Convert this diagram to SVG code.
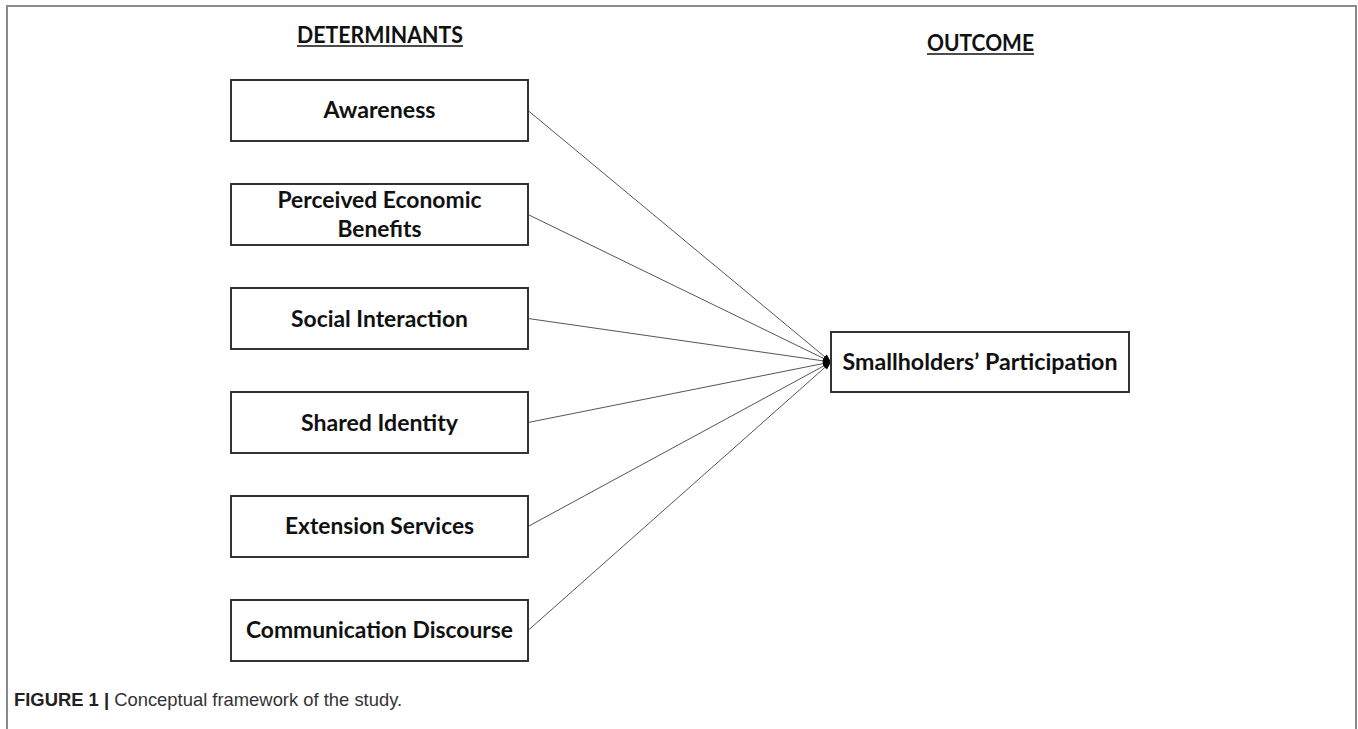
<svg xmlns="http://www.w3.org/2000/svg" width="1358" height="729" viewBox="0 0 1358 729">
<defs>
<marker id="ah" markerUnits="userSpaceOnUse" markerWidth="9" markerHeight="7" refX="8" refY="3" orient="auto" overflow="visible">
<path d="M0,0 L8,3 L0,6 z" fill="#000"/>
</marker>
<style>
.frame{fill:none;stroke:#8a8a8a;stroke-width:2}
.box{fill:#fff;stroke:#333;stroke-width:2}
.lbl{font-family:Lato,"Liberation Sans",sans-serif;font-weight:bold;font-size:22px;fill:#111;text-anchor:middle}
.hdr{font-family:Lato,"Liberation Sans",sans-serif;font-weight:bold;font-size:22px;fill:#111;text-anchor:middle}
.ul{stroke:#111;stroke-width:1.5}
.con{stroke:#555;stroke-width:1;fill:none;marker-end:url(#ah)}
.cap{font-family:"Liberation Sans",Arial,sans-serif;font-size:18.4px;fill:#333}
</style>
</defs>
<rect width="1358" height="729" fill="#fff"/>
<path class="frame" d="M7,740 L7,6 L1356,6 L1356,740"/>

<g id="headers">
<text class="hdr" x="380" y="43" textLength="166" lengthAdjust="spacingAndGlyphs">DETERMINANTS</text>
<line class="ul" x1="297" y1="46" x2="463" y2="46"/>
<text class="hdr" x="980.5" y="51" textLength="107" lengthAdjust="spacingAndGlyphs">OUTCOME</text>
<line class="ul" x1="927" y1="54" x2="1034" y2="54"/>
</g>

<g id="connectors">
<line class="con" x1="528" y1="110.5" x2="831" y2="362"/>
<line class="con" x1="528" y1="214.5" x2="831" y2="362"/>
<line class="con" x1="528" y1="318.5" x2="831" y2="362"/>
<line class="con" x1="528" y1="422.5" x2="831" y2="362"/>
<line class="con" x1="528" y1="526.5" x2="831" y2="362"/>
<line class="con" x1="528" y1="630.5" x2="831" y2="362"/>
</g>

<g id="awareness">
<rect class="box" x="231" y="80" width="297" height="61"/>
<text class="lbl" x="379.5" y="118" textLength="112" lengthAdjust="spacingAndGlyphs">Awareness</text>
</g>
<g id="perceived-economic-benefits">
<rect class="box" x="231" y="184" width="297" height="61"/>
<text class="lbl" x="379.5" y="208" textLength="204" lengthAdjust="spacingAndGlyphs">Perceived Economic</text>
<text class="lbl" x="379.5" y="237" textLength="84" lengthAdjust="spacingAndGlyphs">Benefits</text>
</g>
<g id="social-interaction">
<rect class="box" x="231" y="288" width="297" height="61"/>
<text class="lbl" x="379.5" y="327" textLength="177" lengthAdjust="spacingAndGlyphs">Social Interaction</text>
</g>
<g id="shared-identity">
<rect class="box" x="231" y="392" width="297" height="61"/>
<text class="lbl" x="379.5" y="431" textLength="157" lengthAdjust="spacingAndGlyphs">Shared Identity</text>
</g>
<g id="extension-services">
<rect class="box" x="231" y="496" width="297" height="61"/>
<text class="lbl" x="379.5" y="534" textLength="189" lengthAdjust="spacingAndGlyphs">Extension Services</text>
</g>
<g id="communication-discourse">
<rect class="box" x="231" y="600" width="297" height="61"/>
<text class="lbl" x="379.5" y="638" textLength="267" lengthAdjust="spacingAndGlyphs">Communication Discourse</text>
</g>
<g id="smallholders-participation">
<rect class="box" x="831" y="332" width="298" height="60"/>
<text class="lbl" x="980" y="370" textLength="275" lengthAdjust="spacingAndGlyphs">Smallholders’ Participation</text>
</g>

<g id="caption">
<text class="cap" x="14" y="706"><tspan font-weight="bold" fill="#222">FIGURE 1 |</tspan> Conceptual framework of the study.</text>
</g>
</svg>
